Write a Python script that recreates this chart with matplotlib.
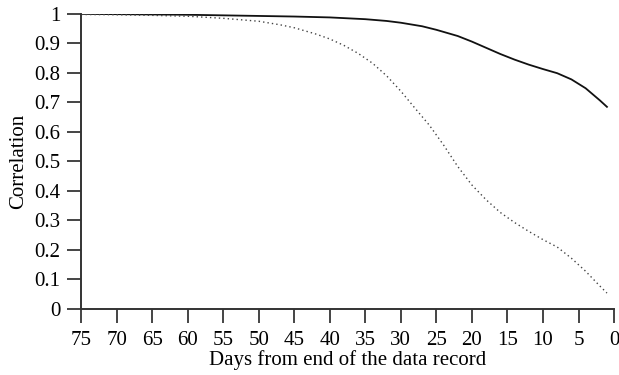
import matplotlib.pyplot as plt

plt.rcParams['font.family'] = ['Liberation Serif', 'DejaVu Serif']

# days before the end of the record and the correlations
days_solid = [75, 70, 65, 60, 55, 50, 45, 40, 35, 32, 30, 27, 25, 22, 20, 18,
              16, 14, 12, 10, 8, 6, 4, 2, 1]
corr_solid = [1.0, 0.999, 0.998, 0.997, 0.995, 0.993, 0.991, 0.988, 0.982,
              0.976, 0.970, 0.958, 0.946, 0.925, 0.906, 0.885, 0.864, 0.845,
              0.828, 0.813, 0.799, 0.778, 0.748, 0.707, 0.685]

days_dotted = [75, 70, 65, 60, 55, 50, 47, 45, 42, 40, 38, 36, 34, 32, 30, 28,
               26, 24, 22, 20, 18, 16, 14, 12, 10, 8, 6, 4, 2, 1]
corr_dotted = [0.998, 0.997, 0.995, 0.992, 0.985, 0.975, 0.963, 0.953, 0.932,
               0.915, 0.893, 0.866, 0.833, 0.790, 0.738, 0.680, 0.623, 0.556,
               0.483, 0.420, 0.370, 0.327, 0.293, 0.263, 0.235, 0.210, 0.172,
               0.128, 0.078, 0.054]

x_ticks = list(range(75, -1, -5))
y_ticks = [0, 0.1, 0.2, 0.3, 0.4, 0.5, 0.6, 0.7, 0.8, 0.9, 1]
y_tick_labels = ['0', '0.1', '0.2', '0.3', '0.4', '0.5', '0.6', '0.7', '0.8', '0.9', '1']

fig = plt.figure(figsize=(6.19, 3.75), dpi=100)
ax = fig.add_axes([0.131, 0.176, 0.861, 0.787])

ax.plot(days_solid, corr_solid, color='#111111', linewidth=1.3)
ax.plot(days_dotted, corr_dotted, color='#444444', linewidth=1.0,
        linestyle=(0, (1, 2.2)))

ax.set_xlim(75, 0)
ax.set_ylim(0, 1)
ax.set_xticks(x_ticks)
ax.set_yticks(y_ticks)
ax.set_yticklabels(y_tick_labels)

for side in ['top', 'right']:
    ax.spines[side].set_visible(False)
for side in ['left', 'bottom']:
    ax.spines[side].set_linewidth(1.4)
    ax.spines[side].set_color('#333333')
    ax.spines[side].set_clip_on(False)

ax.tick_params(direction='out', length=10, width=1.4, color='#444444',
               labelsize=15, pad=5)
ax.tick_params(axis='x', pad=6)
ax.set_xlabel('Days from end of the data record', fontsize=15, labelpad=0)
ax.set_ylabel('Correlation', fontsize=15, labelpad=4)

fig.savefig('out.png', dpi=100)
